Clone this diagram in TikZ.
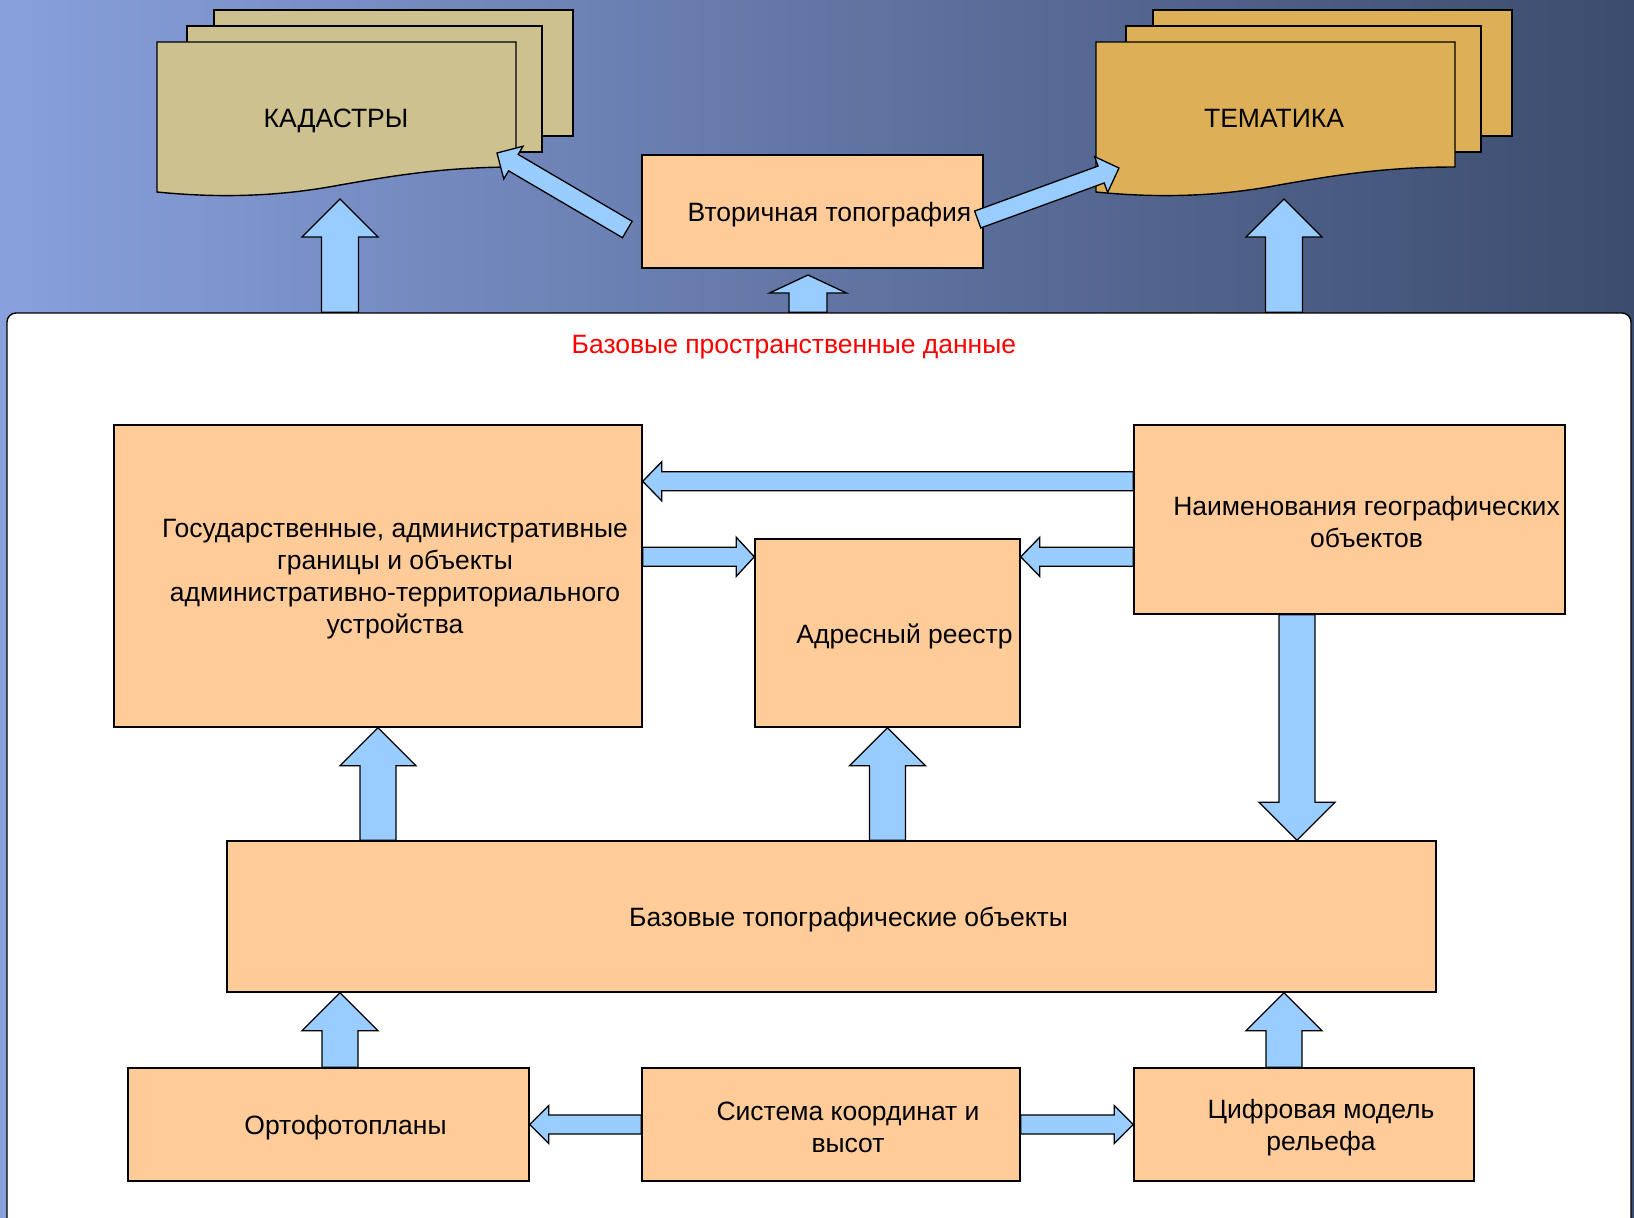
\documentclass[tikz,border=0pt]{standalone}
\usepackage{fontspec}
\setmainfont{Liberation Sans}
\usetikzlibrary{calc,positioning}
\definecolor{boxfill}{HTML}{FFCC99}
\definecolor{arrowfill}{HTML}{99CCFF}
\definecolor{kadfill}{HTML}{CCC18F}
\definecolor{temfill}{HTML}{DDAF57}
\definecolor{bgleft}{RGB}{136,160,220}
\definecolor{bgmid}{RGB}{96,114,166}
\definecolor{bgright}{RGB}{60,76,110}

\newcommand\fatarrow[5]{%
  \coordinate (fa-a) at (#1);
  \coordinate (fa-b) at (#2);
  \coordinate (fa-h) at ($(fa-b)!#5!(fa-a)$);
  \draw[blockarrow] ($(fa-a)!#3!90:(fa-b)$) -- ($(fa-h)!#3!-90:(fa-a)$) -- ($(fa-h)!#4!-90:(fa-a)$)
    -- (fa-b) -- ($(fa-h)!#4!90:(fa-a)$) -- ($(fa-h)!#3!90:(fa-a)$) -- ($(fa-a)!#3!-90:(fa-b)$) -- cycle;}

\begin{document}
\begin{tikzpicture}[x=1pt, y=-1pt,
  lbl/.style={font=\fontsize{26.5}{32}\selectfont, yshift=-3pt},
  txt/.style={lbl, align=center, xshift=17pt},
  box/.style={draw, line width=1.4pt, fill=boxfill, inner sep=0pt},
  sheet/.style={draw, line width=1.4pt},
  blockarrow/.style={draw, line width=1.3pt, fill=arrowfill, line join=miter},
  pics/docstack/.style={code={
    \draw[sheet, fill=#1] (57,-32) rectangle (416,94);
    \draw[sheet, fill=#1] (30,-16) rectangle (385,110);
    \draw[sheet, fill=#1] (0,0) -- (359,0) -- (359,125) .. controls (290,125) and (240,133) .. (183,143)
      .. controls (120,155) and (60,156) .. (0,150) -- cycle;}}]
  \useasboundingbox (0,0) rectangle (1634,1218);
  \clip (0,0) rectangle (1634,1218);
  \shade[left color=bgleft, middle color=bgmid, right color=bgright] (0,0) rectangle (1634,1218);

  \pic at (157,42) {docstack=kadfill};
  \node[lbl] (kad) at (336,118) {КАДАСТРЫ};
  \pic at (1096,42) {docstack=temfill};
  \node[lbl] (tem) at (1274,115) {ТЕМАТИКА};
  \node[box, minimum width=341pt, minimum height=113pt, label={[txt]center:Вторичная топография}] (vtor) at (812.5,211.5) {};

  \node[draw, line width=1.4pt, fill=white, rounded corners=9pt, minimum width=1624pt, minimum height=1000pt] (panel) at (819,813) {};
  \node[lbl, text=red] (title) at (794,344) {Базовые пространственные данные};

  \node[box, minimum width=528pt, minimum height=302pt,
    label={[txt]center:{Государственные, административные\\границы и объекты\\административно-территориального\\устройства}}] (gos) at (378,576) {};
  \node[box, minimum width=265pt, minimum height=188pt, label={[txt]center:Адресный реестр}] (adr) at (887.5,633) {};
  \node[box, minimum width=431pt, minimum height=189pt,
    label={[txt]center:{Наименования географических\\объектов}}] (naim) at (1349.5,519.5) {};
  \node[box, minimum width=1209pt, minimum height=151pt, label={[txt]center:Базовые топографические объекты}] (baz) at (831.5,916.5) {};
  \node[box, minimum width=401pt, minimum height=113pt, label={[txt]center:Ортофотопланы}] (orto) at (328.5,1124.5) {};
  \node[box, minimum width=378pt, minimum height=113pt, label={[txt]center:{Система координат и\\высот}}] (sys) at (831,1124.5) {};
  \node[box, minimum width=340pt, minimum height=113pt, label={[txt]center:{Цифровая модель\\рельефа}}] (cif) at (1304,1124.5) {};

  \coordinate (kad-in) at (340,199);
  \coordinate (kad-side) at (497,153);
  \coordinate (tem-in) at (1284,199);
  \coordinate (tem-side) at (1119,168);
  \coordinate (vtor-in) at (808,275);
  \coordinate (naim-out) at ($(naim.south)+(-52.5,0)$);
  \coordinate (orto-out) at ($(orto.north)+(11.5,0)$);
  \coordinate (cif-out) at ($(cif.north)+(-20,0)$);

  \fatarrow{panel.north -| kad-in}{kad-in}{18.5pt}{38pt}{38pt}
  \fatarrow{panel.north -| vtor-in}{vtor-in}{19pt}{38.5pt}{18pt}
  \fatarrow{panel.north -| tem-in}{tem-in}{18.5pt}{38pt}{38pt}
  \fatarrow{$(vtor.west)+(-14,18)$}{kad-side}{9.5pt}{19pt}{19pt}
  \fatarrow{$(vtor.east)+(-6,8)$}{tem-side}{9pt}{19pt}{19pt}

  \fatarrow{$(naim.north west)+(0,57)$}{$(gos.north east)+(0,57)$}{9.5pt}{19.5pt}{19pt}
  \fatarrow{$(gos.north east)+(0,132.5)$}{$(adr.north west)+(0,18.5)$}{9.5pt}{19.5pt}{18pt}
  \fatarrow{$(naim.north west)+(0,132.5)$}{$(adr.north east)+(0,18.5)$}{9.5pt}{19.5pt}{19pt}
  \fatarrow{naim-out}{naim-out |- baz.north}{18pt}{38pt}{38pt}
  \fatarrow{baz.north -| gos.south}{gos.south}{18pt}{38pt}{38pt}
  \fatarrow{baz.north -| adr.south}{adr.south}{18pt}{38pt}{38pt}
  \fatarrow{orto-out}{orto-out |- baz.south}{18pt}{38pt}{38pt}
  \fatarrow{cif-out}{cif-out |- baz.south}{18pt}{38pt}{38pt}
  \fatarrow{sys.west}{orto.east}{9.5pt}{19pt}{19pt}
  \fatarrow{sys.east}{cif.west}{9.5pt}{19pt}{19pt}
\end{tikzpicture}
\end{document}
